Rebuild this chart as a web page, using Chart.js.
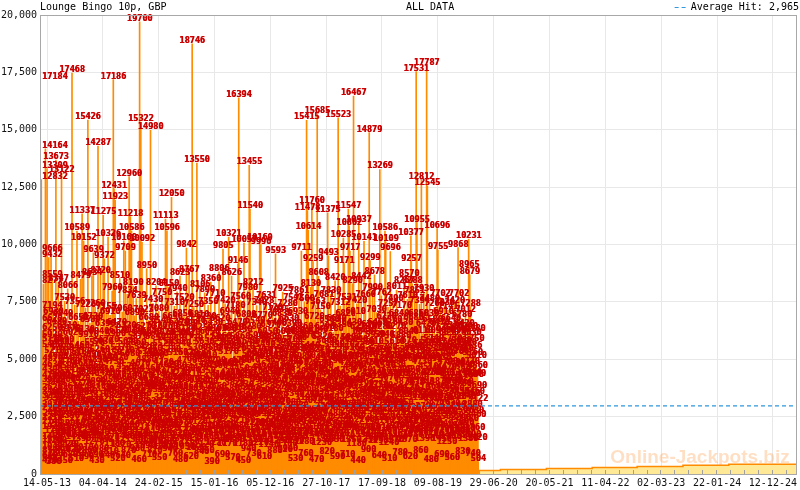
<!DOCTYPE html>
<html>
<head>
<meta charset="utf-8">
<title>Lounge Bingo 10p, GBP</title>
<script src="https://cdn.jsdelivr.net/npm/chart.js@4.4.1/dist/chart.umd.min.js"></script>
<style>
    html, body { margin: 0; padding: 0; background: #fff; }
    #wrap { width: 800px; height: 490px; }
</style>
</head>
<body>
<div id="wrap"><canvas id="chart" width="800" height="490"></canvas></div>
<script>
// ------------------------------
// Chart data
// ------------------------------

const chartTitle = "Lounge Bingo 10p, GBP";
const periodLabel = "ALL DATA";
const averageHit = 2965;

// x axis: tick labels are dd-mm-yy dates, range in yyyy-mm-dd
const tickLabels = ["14-05-13", "04-04-14", "24-02-15", "15-01-16", "05-12-16", "27-10-17", "17-09-18",
    "09-08-19", "29-06-20", "20-05-21", "11-04-22", "02-03-23", "22-01-24", "12-12-24"];
const axisStart = "2013-04-03";
const axisEnd = "2025-04-30";
const yTicks = [0, 2500, 5000, 7500, 10000, 12500, 15000, 17500, 20000];

// jackpot hits, one row per month starting April 2013
const firstHitMonth = "2013-04";
const monthlyHits = [
    [17184, 2310, 5920, 870, 12832, 3460, 1480, 6250, 4120, 2760, 8277, 540, 3980, 420],
    [4630, 14164, 1920, 7194, 3250, 13309, 640, 5480, 2870, 9432, 1350, 4390, 6620],
    [2140, 5770, 9666, 3620, 1040, 8559, 4870, 2480, 6930, 380, 3190, 5210, 1760, 760],
    [3840, 13673, 1290, 6480, 2650, 4950, 720, 8347, 3410, 5630, 2030, 4210, 1580],
    [5350, 2420, 13122, 4080, 960, 6840, 3070, 1830, 5690, 2710, 7520, 450, 3960, 1120],
    [1650, 4590, 6310, 2940, 8066, 3520, 1120, 5080, 2390, 4760, 680, 6170, 3280],
    [4150, 1860, 17468, 3670, 6020, 2580, 920, 5340, 4410, 7356, 2060, 3140, 1470, 510],
    [2860, 10589, 4890, 1590, 6650, 3390, 750, 5460, 2270, 4020, 8479, 1390, 3770],
    [5180, 11337, 2540, 4680, 1010, 10152, 3580, 6130, 1940, 2970, 7226, 4330, 590, 1620],
    [3450, 1730, 15426, 5910, 2610, 4240, 860, 6580, 3060, 1520, 5050, 2330, 8634],
    [2090, 6730, 4560, 9639, 3010, 1270, 5570, 2720, 7260, 3890, 690, 4450, 1880, 430],
    [4830, 2470, 14287, 3310, 6040, 1640, 5260, 2180, 8720, 3740, 980, 4970, 2830],
    [1350, 5630, 11275, 3120, 4410, 9372, 2370, 6390, 1790, 3580, 7155, 2690, 4890, 640],
    [3950, 10326, 2240, 5720, 1420, 4280, 6910, 2880, 810, 5150, 3460, 7960, 1960],
    [2560, 17186, 4730, 12431, 1180, 3630, 11923, 5980, 2150, 4170, 6470, 1690, 3290, 520],
    [4920, 1810, 6120, 3270, 8510, 2480, 5370, 1120, 4060, 2930, 7060, 3710, 640],
    [2740, 10160, 5210, 1460, 3860, 9709, 2290, 6320, 4520, 1880, 7834, 3120, 5640, 870],
    [3560, 12960, 1990, 5080, 11218, 2670, 4310, 10586, 1530, 6160, 3040, 8190, 2410],
    [4380, 2120, 6890, 3450, 1340, 5560, 7639, 2830, 4090, 980, 5870, 3230, 1710, 460],
    [2350, 19700, 4670, 1620, 15322, 3350, 5960, 10092, 2580, 4120, 7023, 1280, 3790],
    [5420, 2860, 1090, 6270, 3640, 4830, 8950, 2170, 5190, 1540, 3930, 6680, 2430, 710],
    [1870, 4460, 14980, 3020, 6040, 2280, 5310, 1360, 7430, 3820, 2640, 4990, 870],
    [3680, 5840, 2050, 8204, 4260, 1470, 6320, 2930, 3540, 5080, 1190, 7080, 2480, 550],
    [2590, 4140, 6540, 1730, 3860, 7750, 2200, 5520, 1060, 4720, 3190, 6020, 1510],
    [4370, 11113, 2660, 5790, 1280, 10596, 3510, 6260, 2080, 4620, 8150, 1820, 3270, 940],
    [1940, 5280, 3720, 12050, 2470, 6690, 4050, 1150, 5630, 2890, 7310, 3380, 760],
    [3110, 6030, 2310, 4580, 7940, 1620, 5160, 3680, 2020, 6470, 1390, 4240, 8623, 480],
    [5540, 2740, 4010, 1480, 6850, 3290, 2170, 5870, 7520, 1050, 4460, 3020, 6180],
    [2380, 9842, 4790, 1730, 6390, 3560, 5120, 2640, 8767, 1260, 3970, 6020, 2910, 620],
    [4210, 1590, 18746, 5730, 2880, 3640, 7250, 1840, 4950, 2330, 6540, 3190, 1020],
    [3360, 13550, 2120, 5360, 4470, 1380, 6810, 2790, 3950, 8106, 1670, 5060, 2560, 840],
    [1780, 4820, 6250, 2960, 3710, 1120, 5630, 7890, 2410, 4350, 3160, 6730, 850],
    [5010, 2520, 3890, 7350, 1460, 4620, 2870, 6050, 1910, 3480, 8360, 5310, 2170, 390],
    [2690, 6430, 1640, 4110, 3230, 5740, 7710, 2360, 4790, 1220, 3650, 6190, 2940],
    [4560, 1950, 5380, 2730, 8806, 3410, 1380, 6620, 4190, 2580, 5860, 3070, 1760, 690],
    [3120, 9805, 2460, 5490, 4040, 1530, 7420, 3290, 2010, 6180, 4660, 1170, 5730],
    [2230, 5170, 10321, 3580, 1840, 6940, 4290, 2710, 5580, 3350, 8626, 1450, 4020, 570],
    [4690, 2940, 6210, 1350, 3820, 7180, 2570, 5320, 4130, 1790, 6470, 3060, 9146],
    [1980, 16394, 4450, 2650, 5860, 3280, 7560, 1540, 4790, 2390, 6130, 3620, 1180, 450],
    [3730, 10057, 5410, 2160, 4230, 1670, 6800, 3090, 5640, 2520, 7980, 4160, 940],
    [2440, 13455, 4840, 11540, 1760, 3540, 6280, 2860, 5090, 1390, 4370, 8212, 3180, 730],
    [4970, 2110, 6540, 3420, 1580, 5270, 7340, 2650, 4050, 3130, 5900, 1220, 2780],
    [1870, 10160, 3960, 5680, 9996, 2490, 4470, 1350, 6770, 3250, 5140, 2030, 7428, 610],
    [3560, 5490, 2080, 4620, 7631, 1660, 3880, 6050, 2730, 4950, 1140, 3310, 5830],
    [2590, 4180, 6370, 1890, 3460, 5730, 2860, 7120, 4330, 1480, 5210, 3050, 2240, 880],
    [4850, 9593, 2370, 3960, 6460, 1720, 5170, 3280, 2010, 7035, 4510, 1290, 3670],
    [3020, 5590, 1950, 4290, 6830, 2640, 7925, 3740, 1530, 5020, 2280, 4470, 920],
    [1760, 6040, 2430, 5290, 1180, 7280, 4880, 2060, 6630, 1420, 5460, 940],
    [2980, 4620, 1640, 6390, 3510, 5700, 2210, 7542, 4060, 1290, 3340, 6080, 2590, 530],
    [4330, 2160, 5780, 3620, 1480, 6930, 2830, 4750, 7861, 1850, 3960, 5240, 2390],
    [2670, 9711, 4980, 1720, 3840, 6260, 2480, 5360, 1280, 7500, 4120, 3190, 5870, 760],
    [3560, 15415, 2140, 11478, 4720, 10614, 1630, 6050, 3290, 5440, 2460, 8130, 4090],
    [1910, 11760, 5320, 3070, 9259, 4460, 2280, 6720, 1540, 3780, 7363, 5030, 2640, 470],
    [4410, 15685, 2590, 6140, 8608, 3320, 1780, 5270, 3890, 7150, 2150, 4680, 1230],
    [3140, 5820, 2370, 4560, 1650, 7681, 3510, 6290, 2790, 4930, 1390, 5660, 3830, 820],
    [2050, 11375, 4330, 9493, 3190, 6560, 1820, 5080, 2740, 7830, 4170, 1470, 3560],
    [4790, 2480, 6180, 3620, 1330, 5490, 2930, 8420, 4210, 1760, 6640, 3020, 5230, 590],
    [2860, 15523, 4040, 1610, 5740, 3380, 7312, 2250, 4880, 6350, 1970, 3690, 5020],
    [3890, 10285, 2130, 9171, 5510, 1470, 4350, 6820, 2880, 3640, 7531, 1890, 4970, 710],
    [1960, 11547, 4720, 10802, 3270, 9717, 2560, 5800, 1350, 6430, 3910, 8290, 2370],
    [4530, 16467, 2790, 5360, 1740, 3980, 6910, 2420, 4640, 1180, 7420, 3330, 5690, 440],
    [2680, 10937, 4960, 3140, 6270, 1590, 5210, 8442, 2930, 4380, 1870, 6040, 3560],
    [3790, 10141, 2240, 5560, 4090, 7660, 1720, 6130, 2860, 3430, 5040, 1350, 4720, 900],
    [2150, 14879, 5170, 9299, 3480, 1880, 6360, 4240, 2560, 7990, 3160, 5610, 1490],
    [4690, 8678, 2720, 5930, 3340, 1560, 7030, 4120, 2310, 6450, 1290, 3750, 5270, 640],
    [3050, 13269, 1830, 5120, 4360, 7762, 2640, 6280, 3720, 1430, 4850, 2190, 5940],
    [2420, 10586, 4590, 10109, 3160, 6730, 1690, 5380, 2860, 7257, 4070, 1240, 3490, 510],
    [5020, 9696, 2330, 4240, 1860, 6560, 3580, 2720, 7490, 4780, 1370, 5610, 3060],
    [1970, 4630, 6270, 2890, 8011, 3560, 5190, 1480, 4210, 2640, 6840, 3320, 5030, 780],
    [3460, 5880, 2180, 7170, 4420, 1630, 6430, 2950, 3870, 8267, 1960, 5270, 2430],
    [4140, 2510, 5670, 3290, 1370, 7610, 4860, 2180, 6040, 3570, 8570, 1790, 4420, 620],
    [2730, 10377, 9257, 4960, 8288, 3440, 1580, 6680, 2260, 5350, 7851, 3870, 1920],
    [4280, 17531, 2640, 10955, 5460, 3190, 1760, 6850, 4040, 2370, 7394, 3610, 5190, 860],
    [1830, 12812, 4730, 3260, 6110, 2150, 5550, 7930, 3840, 1390, 4960, 2790, 6420],
    [3390, 17787, 5080, 12545, 2460, 4510, 1670, 6830, 3180, 7480, 2040, 5660, 4260, 480],
    [2240, 4890, 6580, 3360, 1540, 5740, 2870, 7260, 4280, 1980, 6090, 3640, 5310],
    [4460, 10696, 2560, 9755, 5390, 3120, 1830, 6470, 3870, 7702, 2350, 4930, 1410, 690],
    [3170, 5560, 2040, 6910, 4280, 1620, 7330, 3590, 5080, 2690, 6250, 4470, 1250],
    [2550, 4740, 7141, 3280, 6030, 1790, 5360, 2930, 4120, 6640, 1460, 3860, 5730, 560],
    [4010, 6320, 2380, 5170, 3560, 7420, 1690, 4690, 2840, 6090, 3220, 5480, 1980],
    [2650, 9868, 5220, 7702, 3430, 1760, 6140, 4380, 2290, 5660, 3780, 6780, 1520, 830],
    [3860, 5310, 2090, 6420, 4640, 1830, 7012, 3240, 5560, 2760, 4170, 6290, 1380],
    [2280, 10231, 8965, 4770, 8679, 3360, 7288, 1590, 6030, 4280, 5436, 2880, 5160, 740],
    [4190, 2630, 5750, 3460, 1860, 6180, 4240, 2460, 5010, 3690, 1420, 4560, 3122, 504]
];

// pending jackpot level (yellow area)
const levelDates = ["2013-04-03", "2014-06-01", "2015-08-01", "2016-09-01", "2016-10-14", "2016-10-22",
    "2016-11-10", "2016-12-20", "2017-01-08", "2017-01-27", "2017-02-10", "2017-03-14", "2017-03-25",
    "2017-05-05", "2017-05-15", "2018-06-01", "2019-06-01", "2020-03-21", "2020-08-07", "2021-05-02",
    "2022-01-24", "2022-10-13", "2023-07-07", "2024-03-30", "2024-12-17", "2025-04-30"];
const levelValues = [80, 60, 90, 70, 260, 90, 150, 120, 330, 460, 140, 300, 110, 380, 80, 60, 90,
    95, 150, 195, 240, 285, 330, 385, 430, 430];

// ------------------------------
// Helpers
// ------------------------------

function dayOf(iso) {
    const p = iso.split("-").map(Number);
    return Date.UTC(p[0], p[1] - 1, p[2]) / 86400000;
}

function dayOfTick(label) {
    const p = label.split("-").map(Number);
    return Date.UTC(2000 + p[2], p[1] - 1, p[0]) / 86400000;
}

const tickDays = tickLabels.map(dayOfTick);

// spread each month's hits across that month
const hitPoints = [];
const startParts = firstHitMonth.split("-").map(Number);
monthlyHits.forEach(function (hits, i) {
    const y = startParts[0] + Math.floor((startParts[1] - 1 + i) / 12);
    const m = (startParts[1] - 1 + i) % 12;
    const first = Date.UTC(y, m, 1) / 86400000;
    const length = Date.UTC(y, m + 1, 1) / 86400000 - first;
    hits.forEach(function (v, k) {
        hitPoints.push({ x: first + (k + 0.5) * length / hits.length, y: v });
    });
});

const levelPoints = levelDates.map(function (d, i) {
    return { x: dayOf(d), y: levelValues[i] };
});

// ------------------------------
// Plugins
// ------------------------------

const FONT = "'DejaVu Sans Mono', 'Liberation Mono', monospace";

const hitLabels = {
    id: "hitLabels",
    afterDatasetDraw(chart, args) {
        if (args.meta.type !== "bar") return;
        const ctx = chart.ctx;
        const area = chart.chartArea;
        const values = chart.data.datasets[args.index].data;
        ctx.save();
        ctx.font = "bold 8.5px " + FONT;
        ctx.fillStyle = "#cc0000";
        ctx.textBaseline = "alphabetic";
        args.meta.data.forEach(function (bar, i) {
            const text = String(values[i].y);
            const w = ctx.measureText(text).width;
            let x = bar.x - w / 2;
            if (x < area.left + 2) x = area.left + 2;
            if (x + w > area.right - 1) x = area.right - 1 - w;
            const y = Math.round(bar.y - 1);
            // drawn twice, half a pixel apart, for a heavier pixel-font look
            ctx.fillText(text, x, y);
            ctx.fillText(text, x + 0.5, y);
        });
        ctx.restore();
    }
};

const frame = {
    id: "frame",
    beforeDatasetsDraw(chart) {
        const ctx = chart.ctx;
        ctx.save();
        ctx.font = "bold 19px 'Liberation Sans', Arial, sans-serif";
        ctx.fillStyle = "rgba(255, 150, 60, 0.3)";
        ctx.textAlign = "center";
        ctx.textBaseline = "middle";
        ctx.fillText("Online-Jackpots.biz", 700, 458);
        ctx.restore();
    },
    afterDraw(chart) {
        const ctx = chart.ctx;
        const a = chart.chartArea;
        const xs = chart.scales.x;
        ctx.save();

        // minor ticks along the bottom
        const step = (tickDays[1] - tickDays[0]) / 4;
        ctx.strokeStyle = "#a0a0a0";
        ctx.lineWidth = 1;
        ctx.beginPath();
        for (let d = tickDays[0] - step; d <= xs.max; d += step) {
            if (d < xs.min) continue;
            const px = Math.round(xs.getPixelForValue(d)) + 0.5;
            ctx.moveTo(px, a.bottom);
            ctx.lineTo(px, a.bottom - 4);
        }
        ctx.stroke();

        // box round the plot
        ctx.strokeStyle = "#a8a8a8";
        ctx.strokeRect(Math.round(a.left) + 0.5, Math.round(a.top) + 0.5,
            Math.round(a.right - a.left) - 1, Math.round(a.bottom - a.top));

        // header line
        ctx.font = "10px " + FONT;
        ctx.fillStyle = "#000";
        ctx.textBaseline = "middle";
        ctx.textAlign = "left";
        ctx.fillText(chartTitle, 40, 7);
        ctx.fillText(periodLabel, 406, 7);
        ctx.textAlign = "right";
        const avgText = "Average Hit: " + averageHit.toLocaleString("en-US");
        ctx.fillText(avgText, 799, 7);
        const tw = ctx.measureText(avgText).width;
        ctx.strokeStyle = "#3399dd";
        ctx.setLineDash([4, 3]);
        ctx.beginPath();
        ctx.moveTo(799 - tw - 16, 7.5);
        ctx.lineTo(799 - tw - 2, 7.5);
        ctx.stroke();
        ctx.restore();
    }
};

// ------------------------------
// Chart
// ------------------------------

Chart.defaults.font.family = FONT;
Chart.defaults.font.size = 10;
Chart.defaults.color = "#111";

new Chart(document.getElementById("chart"), {

    type: "bar",

    data: {
        datasets: [
            {
                type: "line",
                label: "Average Hit",
                data: [{ x: dayOf(axisStart), y: averageHit }, { x: dayOf(axisEnd), y: averageHit }],
                borderColor: "#2f96dc",
                borderWidth: 1.2,
                borderDash: [4, 3],
                pointRadius: 0,
                order: 0
            },
            {
                type: "bar",
                label: "Hits",
                data: hitPoints,
                backgroundColor: "#ff8c00",
                barThickness: 1,
                grouped: false,
                order: 1
            },
            {
                type: "line",
                label: "Level",
                data: levelPoints,
                stepped: "after",
                fill: "origin",
                backgroundColor: "#ffe896",
                borderColor: "#ff8c00",
                borderWidth: 1.5,
                pointRadius: 0,
                order: 2
            }
        ]
    },

    options: {
        responsive: false,
        animation: false,
        devicePixelRatio: 1,
        layout: { padding: { top: 15, right: 1, left: 0, bottom: 0 } },
        plugins: {
            legend: { display: false },
            tooltip: { enabled: false }
        },
        scales: {
            x: {
                type: "linear",
                min: dayOf(axisStart),
                max: dayOf(axisEnd),
                offset: false,
                grid: { color: "#e8e8e8", drawTicks: false, offset: false },
                border: { color: "#a8a8a8" },
                afterBuildTicks(scale) {
                    scale.ticks = tickDays.map(function (d) { return { value: d }; });
                },
                afterFit(scale) { scale.height = 16; },
                ticks: {
                    autoSkip: false,
                    maxRotation: 0,
                    padding: 3,
                    callback: function (value, index) { return tickLabels[index]; }
                }
            },
            y: {
                min: 0,
                max: 20000,
                grid: { color: "#e8e8e8", drawTicks: false },
                border: { color: "#a8a8a8" },
                afterBuildTicks(scale) {
                    scale.ticks = yTicks.map(function (v) { return { value: v }; });
                },
                afterFit(scale) { scale.width = 40; },
                ticks: {
                    padding: 3,
                    callback: function (value) { return value.toLocaleString("en-US"); }
                }
            }
        }
    },

    plugins: [hitLabels, frame]

});
</script>
</body>
</html>
